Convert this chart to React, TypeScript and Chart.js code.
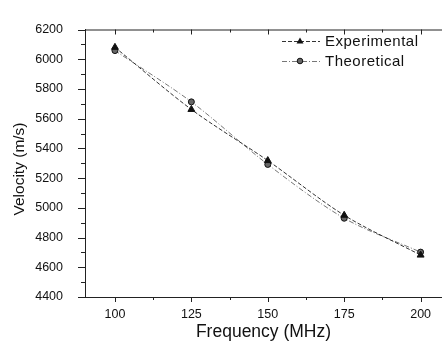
import React, { useEffect, useRef } from "react";
import { Chart, registerables } from "chart.js";

Chart.register(...registerables);

const frequencies = [100, 125, 150, 175, 200];
const experimental = [6080, 5662, 5318, 4950, 4682];
const theoretical = [6058, 5713, 5292, 4930, 4702];
const xTicks = [100, 125, 150, 175, 200];
const yTicks = [4400, 4600, 4800, 5000, 5200, 5400, 5600, 5800, 6000, 6200];
const legendLabels = ["Experimental", "Theoretical"];
const xTitle = "Frequency (MHz)";
const yTitle = "Velocity (m/s)";

const FONT = "'Liberation Sans', Arial, sans-serif";

const decorPlugin = {
  id: "decor",
  afterDraw(chart: any) {
    const ctx = chart.ctx;
    const { left, right, top, bottom } = chart.chartArea;
    const xs = chart.scales.x;
    const ys = chart.scales.y;
    ctx.save();
    ctx.strokeStyle = "#222";
    ctx.lineWidth = 1;
    ctx.beginPath();
    ctx.moveTo(left, top + 0.5);
    ctx.lineTo(right, top + 0.5);
    ctx.stroke();
    ctx.beginPath();
    for (let v = 87.5; v <= 212.5; v += 12.5) {
      const px = Math.round(xs.getPixelForValue(v)) + 0.5;
      if (px < left || px > right) continue;
      const isMajor = xTicks.includes(v);
      ctx.moveTo(px, bottom);
      ctx.lineTo(px, bottom + (isMajor ? 5 : 3));
      ctx.moveTo(px, top);
      ctx.lineTo(px, top + (isMajor ? 5 : 3));
    }
    for (let v = 4400; v <= 6200; v += 100) {
      const py = Math.round(ys.getPixelForValue(v)) + 0.5;
      const isMajor = v % 200 === 0;
      ctx.moveTo(left, py);
      ctx.lineTo(left - (isMajor ? 7 : 4), py);
    }
    ctx.stroke();

    // y title
    ctx.save();
    ctx.translate(20, 169);
    ctx.rotate(-Math.PI / 2);
    ctx.font = `15.5px ${FONT}`;
    ctx.fillStyle = "#111";
    ctx.textAlign = "center";
    ctx.textBaseline = "middle";
    ctx.fillText(yTitle, 0, 0);
    ctx.restore();

    const rows = [
      { label: legendLabels[0], y: 41, dash: [4, 2], color: "#333", style: "tri" },
      { label: legendLabels[1], y: 61, dash: [5, 2, 1, 2], color: "#777", style: "circ" },
    ];
    ctx.font = `15px ${FONT}`;
    try {
      (ctx as any).letterSpacing = "0.5px";
    } catch (e) {}
    ctx.textBaseline = "middle";
    ctx.textAlign = "left";
    for (const r of rows) {
      ctx.strokeStyle = r.color;
      ctx.setLineDash(r.dash);
      ctx.beginPath();
      ctx.moveTo(282, r.y + 0.5);
      ctx.lineTo(320, r.y + 0.5);
      ctx.stroke();
      ctx.setLineDash([]);
      ctx.fillStyle = "#111";
      if (r.style === "tri") {
        ctx.beginPath();
        ctx.moveTo(300, r.y - 3.5);
        ctx.lineTo(303.5, r.y + 2.5);
        ctx.lineTo(296.5, r.y + 2.5);
        ctx.closePath();
        ctx.fill();
      } else {
        ctx.fillStyle = "#666";
        ctx.strokeStyle = "#111";
        ctx.beginPath();
        ctx.arc(300, r.y, 2.8, 0, Math.PI * 2);
        ctx.fill();
        ctx.stroke();
      }
      ctx.fillStyle = "#111";
      ctx.fillText(r.label, 325, r.y + 1);
    }
    ctx.restore();
  },
};

export default function App() {
  const ref = useRef<HTMLCanvasElement>(null);
  useEffect(() => {
    document.body.style.margin = "0";
    const chart = new Chart(ref.current!, {
      type: "line",
      data: {
        datasets: [
          {
            label: legendLabels[0],
            data: frequencies.map((f, i) => ({ x: f, y: experimental[i] })),
            borderColor: "#333",
            borderWidth: 1,
            borderDash: [4, 2],
            pointStyle: "triangle",
            pointRadius: 4,
            backgroundColor: "#111",
            pointBorderColor: "#111",
            tension: 0.3,
          },
          {
            label: legendLabels[1],
            data: frequencies.map((f, i) => ({ x: f, y: theoretical[i] })),
            borderColor: "#777",
            borderWidth: 1,
            borderDash: [5, 2, 1, 2],
            pointStyle: "circle",
            pointRadius: 3,
            backgroundColor: "#666",
            pointBorderColor: "#111",
            tension: 0.3,
          },
        ],
      },
      options: {
        animation: false,
        responsive: false,
        layout: { autoPadding: false, padding: { top: 20, left: 0, right: 0, bottom: 0 } },
        plugins: { legend: { display: false }, tooltip: { enabled: false } },
        scales: {
          x: {
            type: "linear",
            min: 90.2,
            max: 207,
            afterBuildTicks: (s: any) => {
              s.ticks = xTicks.map((v) => ({ value: v }));
            },
            afterFit: (s: any) => {
              s.height = 50;
              s.paddingRight = 0;
              s.paddingLeft = 0;
            },
            grid: { display: false, drawOnChartArea: false, drawTicks: false, tickLength: 0 },
            border: { display: true, color: "#222" },
            ticks: {
              color: "#111",
              font: { family: FONT, size: 12.5 },
              padding: 10,
              maxRotation: 0,
              callback: (v: any) => String(v),
            },
            title: {
              display: true,
              text: xTitle,
              color: "#111",
              font: { family: FONT, size: 17.5 },
              padding: { top: 0, bottom: 4 },
            },
          },
          y: {
            type: "linear",
            min: 4400,
            max: 6200,
            afterBuildTicks: (s: any) => {
              s.ticks = yTicks.map((v) => ({ value: v }));
            },
            afterFit: (s: any) => {
              s.width = 85;
            },
            grid: { display: false, drawOnChartArea: false, drawTicks: false, tickLength: 0 },
            border: { display: true, color: "#222" },
            ticks: {
              color: "#111",
              font: { family: FONT, size: 12.5 },
              padding: 22,
              callback: (v: any) => String(v),
            },
            title: { display: false },
          },
        },
      },
      plugins: [decorPlugin],
    });
    return () => chart.destroy();
  }, []);
  return (
    <div style={{ position: "fixed", left: 0, top: 0, width: 442, height: 347, background: "#fff" }}>
      <canvas ref={ref} width={442} height={347} style={{ width: 442, height: 347 }} />
    </div>
  );
}
